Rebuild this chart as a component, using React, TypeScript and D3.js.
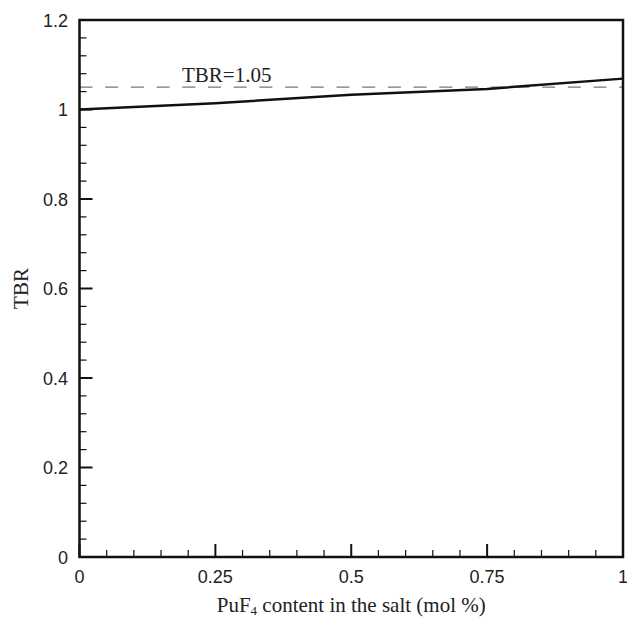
import React, { useEffect, useRef } from 'react';
import * as d3 from 'd3';

// PuF4 content (mol %) vs TBR
const puContent = [0, 0.25, 0.5, 0.75, 1];
const tbrValues = [1.0, 1.014, 1.033, 1.046, 1.069];
const targetTbr = 1.05;
const xTicks = [0, 0.25, 0.5, 0.75, 1];
const yTicks = [0, 0.2, 0.4, 0.6, 0.8, 1, 1.2];

const W = 627;
const H = 619;

export default function App() {
  const ref = useRef<SVGSVGElement>(null);

  useEffect(() => {
    const svg = d3.select(ref.current);
    svg.selectAll('*').remove();

    const left = 79.5, right = 623, top = 20, bottom = 557;

    const x = d3.scaleLinear().domain([0, 1]).range([left, right]);
    const y = d3.scaleLinear().domain([0, 1.2]).range([bottom, top]);

    const sans = 'Liberation Sans, Arial, sans-serif';
    const serif = 'Liberation Serif, Times New Roman, serif';

    // inward ticks, major + minor
    const g = svg.append('g');
    d3.range(0, 1.0001, 0.05).forEach(v => {
      const major = xTicks.some(t => Math.abs(t - v) < 1e-6);
      g.append('line')
        .attr('x1', x(v)).attr('x2', x(v))
        .attr('y1', bottom).attr('y2', bottom - (major ? 13 : 7))
        .attr('stroke', '#111').attr('stroke-width', major ? 2 : 1.2);
    });
    d3.range(0, 1.2001, 0.04).forEach(v => {
      const major = yTicks.some(t => Math.abs(t - v) < 1e-6);
      g.append('line')
        .attr('y1', y(v)).attr('y2', y(v))
        .attr('x1', left).attr('x2', left + (major ? 13 : 7))
        .attr('stroke', '#111').attr('stroke-width', major ? 2 : 1.2);
    });

    // tick labels
    xTicks.forEach(v => {
      svg.append('text')
        .attr('x', x(v)).attr('y', 583)
        .attr('text-anchor', 'middle')
        .attr('font-family', sans).attr('font-size', 18)
        .attr('fill', '#222')
        .text(String(v));
    });
    yTicks.forEach(v => {
      svg.append('text')
        .attr('x', 68).attr('y', y(v) + 6.5)
        .attr('text-anchor', 'end')
        .attr('font-family', sans).attr('font-size', 18)
        .attr('fill', '#222')
        .text(String(v));
    });

    // target dashed line
    svg.append('line')
      .attr('x1', left).attr('x2', right)
      .attr('y1', y(targetTbr)).attr('y2', y(targetTbr))
      .attr('stroke', '#777').attr('stroke-width', 1.3)
      .attr('stroke-dasharray', '13,12.7');
    svg.append('text')
      .attr('x', 182).attr('y', y(targetTbr) - 5)
      .attr('font-family', serif).attr('font-size', 21)
      .attr('fill', '#222')
      .text('TBR=1.05');

    // data line
    const line = d3.line<number>()
      .x((_, i) => x(puContent[i]))
      .y(d => y(d));
    svg.append('path')
      .datum(tbrValues)
      .attr('d', line)
      .attr('fill', 'none')
      .attr('stroke', '#111')
      .attr('stroke-width', 2.5);

    // frame
    svg.append('rect')
      .attr('x', left).attr('y', top)
      .attr('width', right - left).attr('height', bottom - top)
      .attr('fill', 'none')
      .attr('stroke', '#111').attr('stroke-width', 2.5);

    // axis titles
    const xt = svg.append('text')
      .attr('x', (left + right) / 2).attr('y', 612)
      .attr('text-anchor', 'middle')
      .attr('font-family', serif).attr('font-size', 21)
      .attr('fill', '#222');
    xt.append('tspan').text('PuF');
    xt.append('tspan').attr('font-size', 13).attr('dy', 3).text('4');
    xt.append('tspan').attr('dy', -3).text(' content in the salt (mol %)');

    svg.append('text')
      .attr('transform', `translate(28,${(top + bottom) / 2}) rotate(-90)`)
      .attr('text-anchor', 'middle')
      .attr('font-family', serif).attr('font-size', 21)
      .attr('fill', '#222')
      .text('TBR');
  }, []);

  return (
    <svg
      ref={ref}
      width={W}
      height={H}
      style={{ position: 'absolute', left: 0, top: 0, background: '#fff' }}
    />
  );
}
